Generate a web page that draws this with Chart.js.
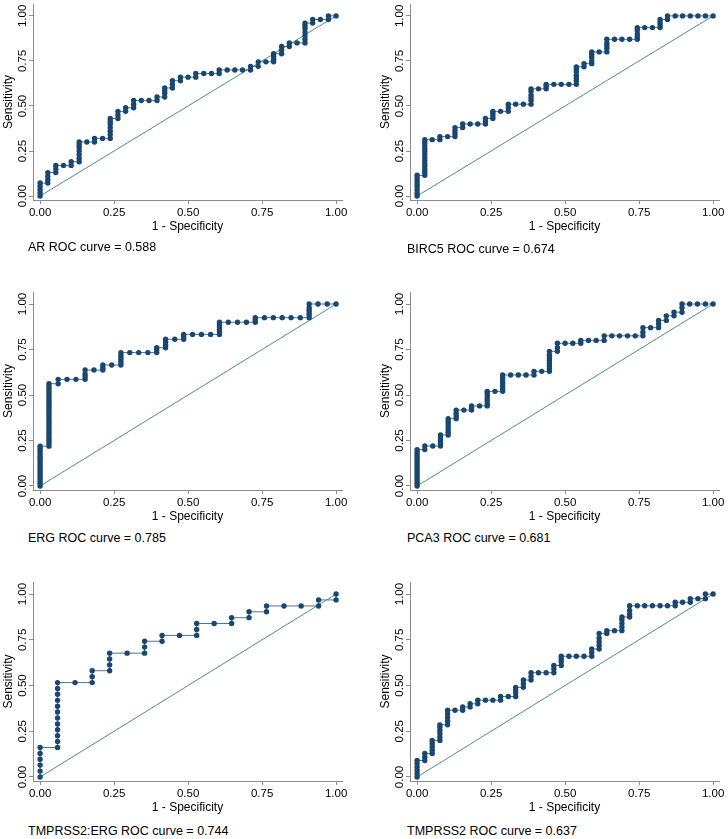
<!DOCTYPE html>
<html>
<head>
<meta charset="utf-8">
<script src="https://cdn.jsdelivr.net/npm/chart.js@4.4.1/dist/chart.umd.min.js"></script>
<style>
  body { margin: 0; background: #fff; }
  #page { position: relative; width: 728px; height: 839px; overflow: hidden; }
  canvas { position: absolute; }
  .caption { position: absolute; font: 12.5px "Liberation Sans", Arial, Helvetica, sans-serif; color: #000; line-height: 16px; white-space: nowrap; }
</style>
</head>
<body>
<div id="page"></div>
<script>
// each curve: [1 - specificity, [sensitivity values stacked at that x]]
const arCurve = [
  [0, [0, .018, .036, .054, .072]], [0.026, [.072, .09, .11, .13]], [0.053, [.13, .15, .17]],
  [0.079, [.17]], [0.105, [.17, .19]], [0.132, [.19, .21, .23, .25, .27, .285, .30]],
  [0.158, [.30]], [0.184, [.30, .32]], [0.211, [.32]],
  [0.237, [.32, .34, .36, .38, .40, .415, .43]], [0.263, [.43, .45, .47]], [0.289, [.47, .49]],
  [0.316, [.49, .51, .53]], [0.342, [.53]], [0.368, [.53]], [0.395, [.53, .55]],
  [0.421, [.55, .57, .585, .60]], [0.447, [.60, .62, .64]], [0.474, [.64, .66]], [0.5, [.66]],
  [0.526, [.66, .68]], [0.553, [.68]], [0.579, [.68]], [0.605, [.68, .70]], [0.632, [.70]],
  [0.658, [.70]], [0.684, [.70]], [0.711, [.70, .72]], [0.737, [.72, .745]], [0.763, [.745]],
  [0.789, [.745, .76, .775, .79]], [0.816, [.79, .81, .83]], [0.842, [.83, .85]], [0.868, [.85]],
  [0.895, [.85, .87, .89, .91, .93, .945, .96]], [0.921, [.96, .98]], [0.947, [.98]],
  [0.974, [.98, 1]], [1, [1]]
];
const birc5Curve = [
  [0, [0, .016, .033, .05, .066, .082, .099, .115]],
  [0.026, [.115, .132, .148, .165, .181, .198, .214, .23, .247, .264, .28, .297, .313]],
  [0.051, [.313]], [0.077, [.313, .33]], [0.103, [.33]], [0.128, [.33, .346, .363, .38]],
  [0.154, [.38, .40]], [0.179, [.40]], [0.205, [.40]], [0.231, [.40, .415, .43]],
  [0.256, [.43, .445, .46, .47]], [0.282, [.47]], [0.308, [.47, .49, .51]], [0.333, [.51]],
  [0.359, [.51]], [0.385, [.51, .53, .545, .56, .58, .595]], [0.41, [.595]],
  [0.436, [.595, .61, .62]], [0.462, [.62]], [0.487, [.62]], [0.513, [.62]],
  [0.538, [.62, .64, .655, .67, .69, .705, .717]], [0.564, [.717, .735]],
  [0.59, [.735, .75, .77, .785, .80]], [0.615, [.80]], [0.641, [.80, .82, .835, .85, .87]],
  [0.667, [.87]], [0.692, [.87]], [0.718, [.87]], [0.744, [.87, .885, .90, .92, .935]],
  [0.769, [.935]], [0.795, [.935]], [0.821, [.935, .95, .965, .98]], [0.846, [.98, 1]],
  [0.872, [1]], [0.897, [1]], [0.923, [1]], [0.949, [1]], [0.974, [1]], [1, [1]]
];
const ergCurve = [
  [0, [0, .014, .027, .041, .055, .068, .082, .096, .11, .123, .137, .151, .164, .178, .192, .205, .219]],
  [0.03, [.219, .233, .247, .26, .274, .288, .301, .315, .329, .342, .356, .37, .384, .397, .411,
          .425, .438, .452, .466, .479, .493, .507, .521, .534, .548, .562]],
  [0.061, [.562, .586]], [0.091, [.586]], [0.121, [.586]], [0.152, [.586, .60, .616, .637]],
  [0.182, [.637]], [0.212, [.637, .65, .665]], [0.242, [.665]],
  [0.273, [.665, .678, .692, .705, .719, .733]], [0.303, [.733]], [0.333, [.733]], [0.364, [.733]],
  [0.394, [.733, .747, .76]], [0.424, [.76, .774, .79, .806]], [0.455, [.806]],
  [0.485, [.806, .82, .833]], [0.515, [.833]], [0.545, [.833]], [0.576, [.833]],
  [0.606, [.833, .847, .86, .874, .888, .90]], [0.636, [.90]], [0.667, [.90]], [0.697, [.90]],
  [0.727, [.90, .912, .925]], [0.758, [.925]], [0.788, [.925]], [0.818, [.925]], [0.848, [.925]],
  [0.879, [.925]], [0.909, [.925, .94, .952, .966, .98, 1]], [0.939, [1]], [0.97, [1]], [1, [1]]
];
const pca3Curve = [
  [0, [0, .014, .028, .042, .056, .07, .085, .1, .114, .128, .143, .157, .171, .186, .2]],
  [0.026, [.2, .22]], [0.053, [.22]], [0.079, [.22, .235, .25, .265, .28]],
  [0.105, [.28, .295, .31, .325, .34, .355, .37]], [0.132, [.37, .385, .40, .417]],
  [0.158, [.417]], [0.184, [.417, .43, .44]], [0.211, [.44]],
  [0.237, [.44, .45, .465, .48, .495, .51, .52]], [0.263, [.52]],
  [0.289, [.52, .535, .55, .565, .58, .595, .61]], [0.316, [.61]], [0.342, [.61]], [0.368, [.61]],
  [0.395, [.61, .63]], [0.421, [.63]], [0.447, [.63, .645, .66, .675, .69, .705, .72, .74]],
  [0.474, [.74, .76, .784]], [0.5, [.784]], [0.526, [.784]], [0.553, [.784, .80]],
  [0.579, [.80]], [0.605, [.80]], [0.632, [.80, .825]], [0.658, [.825]], [0.684, [.825]],
  [0.711, [.825]], [0.737, [.825]], [0.763, [.825, .845, .87]], [0.789, [.87]],
  [0.816, [.87, .89, .91]], [0.842, [.91, .935]], [0.868, [.935, .955]], [0.895, [.955, .98, 1]],
  [0.921, [1]], [0.947, [1]], [0.974, [1]], [1, [1]]
];
const tmprss2ErgCurve = [
  [0, [0, .032, .065, .097, .129, .161]],
  [0.059, [.161, .194, .226, .258, .29, .323, .355, .387, .419, .452, .484, .516]],
  [0.118, [.516]], [0.176, [.516, .548, .581]], [0.235, [.581, .613, .645, .677]],
  [0.294, [.677]], [0.353, [.677, .71, .742]], [0.412, [.742, .774]], [0.471, [.774]],
  [0.529, [.774, .806, .839]], [0.588, [.839]], [0.647, [.839, .871]], [0.706, [.871, .903]],
  [0.765, [.903, .935]], [0.824, [.935]], [0.882, [.935]], [0.941, [.935, .968]], [1, [.968, 1]]
];
const tmprss2Curve = [
  [0, [0, .018, .036, .054, .072, .09]], [0.026, [.09, .108, .128]],
  [0.051, [.128, .146, .164, .182, .20]], [0.077, [.20, .218, .236, .254, .272, .285]],
  [0.103, [.285, .305, .325, .345, .365]], [0.128, [.365]], [0.154, [.365, .383]],
  [0.179, [.383, .40]], [0.205, [.40, .42]], [0.231, [.42]], [0.256, [.42]], [0.282, [.42, .44]],
  [0.308, [.44]], [0.333, [.44, .46, .475, .49]], [0.359, [.49, .51, .53]],
  [0.385, [.53, .55, .57]], [0.41, [.57]], [0.436, [.57]], [0.462, [.57, .59, .61]],
  [0.487, [.61, .63, .645, .66]], [0.513, [.66]], [0.538, [.66]], [0.564, [.66]],
  [0.59, [.66, .68, .70]], [0.615, [.70, .72, .74, .76, .785]], [0.641, [.785, .80]],
  [0.667, [.80]], [0.692, [.80, .82, .84, .86, .875]], [0.718, [.875, .89, .91, .936]],
  [0.744, [.936]], [0.769, [.936]], [0.795, [.936]], [0.821, [.936]], [0.846, [.936]],
  [0.872, [.936, .955]], [0.897, [.955]], [0.923, [.955, .975]], [0.949, [.975]],
  [0.974, [.975, 1]], [1, [1]]
];

const markerNames = ["AR", "BIRC5", "ERG", "PCA3", "TMPRSS2:ERG", "TMPRSS2"];
const aucValues = ["0.588", "0.674", "0.785", "0.681", "0.744", "0.637"];
const curves = [arCurve, birc5Curve, ergCurve, pca3Curve, tmprss2ErgCurve, tmprss2Curve];
const axisTicks = [0, 0.25, 0.5, 0.75, 1];
const diagonal = [{x: 0, y: 0}, {x: 1, y: 1}];

// placement of each panel on the page
const panels = [
  {left: 0,   top: 0,   h: 240, pad: {left: 0,  right: 22, top: 2,  bottom: 4}, cap: [28, 247]},
  {left: 364, top: 0,   h: 240, pad: {left: 13, right: 9,  top: 2,  bottom: 4}, cap: [407, 249]},
  {left: 0,   top: 280, h: 250, pad: {left: 0,  right: 22, top: 12, bottom: 4}, cap: [28, 538]},
  {left: 364, top: 280, h: 250, pad: {left: 13, right: 9,  top: 12, bottom: 4}, cap: [407, 538]},
  {left: 0,   top: 560, h: 261, pad: {left: 0,  right: 22, top: 22, bottom: 4}, cap: [28, 831]},
  {left: 364, top: 560, h: 261, pad: {left: 13, right: 9,  top: 22, bottom: 4}, cap: [407, 831]}
];

Chart.defaults.font.family = '"Liberation Sans", Arial, Helvetica, sans-serif';
Chart.defaults.color = "#000";

const axisGray = "#8c8c8c";
const setTicks = (scale) => { scale.ticks = axisTicks.map(v => ({value: v})); };

const toPoints = (curve) => {
  const pts = [];
  curve.forEach(([x, ys]) => ys.forEach(y => pts.push({x: x, y: y})));
  return pts;
};

function createRocChart(i) {
  const p = panels[i];
  const page = document.getElementById("page");
  const canvas = document.createElement("canvas");
  canvas.width = 364;
  canvas.height = p.h;
  canvas.style.left = p.left + "px";
  canvas.style.top = p.top + "px";
  page.appendChild(canvas);

  const cap = document.createElement("div");
  cap.className = "caption";
  cap.style.left = p.cap[0] + "px";
  cap.style.top = (p.cap[1] - 8) + "px";
  cap.textContent = markerNames[i] + " ROC curve = " + aucValues[i];
  page.appendChild(cap);

  new Chart(canvas.getContext("2d"), {
    type: "scatter",
    data: {
      datasets: [
        {
          data: toPoints(curves[i]),
          showLine: true,
          borderColor: "#4d7396",
          borderWidth: 1,
          pointRadius: 2.7,
          pointBorderWidth: 0,
          pointBackgroundColor: "#1a476f"
        },
        {
          data: diagonal,
          showLine: true,
          borderColor: "#4e8f7f",
          borderWidth: 1,
          pointRadius: 0
        }
      ]
    },
    options: {
      responsive: false,
      animation: false,
      layout: { padding: p.pad },
      plugins: { legend: { display: false }, tooltip: { enabled: false } },
      scales: {
        x: {
          type: "linear", min: -0.024, max: 1.02,
          afterBuildTicks: setTicks,
          afterFit: (s) => { s.height = 36; },
          ticks: { callback: v => v.toFixed(2), font: { size: 11.5 }, padding: 2, maxRotation: 0, color: "#000" },
          grid: { drawOnChartArea: false, tickLength: 4, color: axisGray },
          border: { color: axisGray },
          title: { display: true, text: "1 - Specificity", font: { size: 12 }, padding: { top: 0, bottom: 2 }, color: "#000" }
        },
        y: {
          type: "linear", min: -0.022, max: 1.066,
          afterBuildTicks: setTicks,
          afterFit: (s) => { s.width = 33; },
          ticks: {
            callback: v => v.toFixed(2), font: { size: 11.5 }, color: "#000",
            minRotation: 90, maxRotation: 90, crossAlign: "center", align: "end", padding: -11
          },
          grid: { drawOnChartArea: false, tickLength: 4, color: axisGray },
          border: { color: axisGray },
          title: { display: true, text: "Sensitivity", font: { size: 12 }, padding: { top: 1, bottom: 0 }, color: "#000" }
        }
      }
    }
  });
}

for (let i = 0; i < panels.length; i++) {
  createRocChart(i);
}
</script>
</body>
</html>
